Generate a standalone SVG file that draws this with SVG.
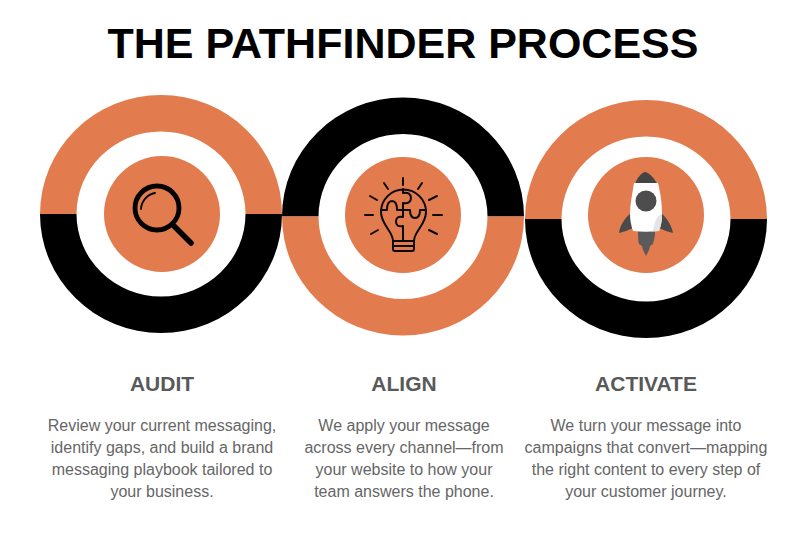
<svg xmlns="http://www.w3.org/2000/svg" width="812" height="536" viewBox="0 0 812 536">
<style>
.o{fill:#e27b4e}.k{fill:#000}
.t{font-family:"Liberation Sans",Arial,sans-serif;text-anchor:middle}
.h{font-size:21px;font-weight:700;fill:#595959}
.b{font-size:16px;fill:#666}
.l{fill:none;stroke:#0a0a0a;stroke-width:2;stroke-linecap:round;stroke-linejoin:round}
</style>
<defs><path id="half" d="M-121 0A121 119 0 0 1 121 0H84.500A84.500 82.500 0 0 0 -84.500 0Z"/></defs>
<rect width="812" height="536" fill="#fff"/>
<text class="t" x="403" y="58" font-size="43" font-weight="700" fill="#000">THE PATHFINDER PROCESS</text>
<g id="audit">
<use href="#half" class="o" x="161" y="214"/>
<use href="#half" class="k" transform="translate(161 214) rotate(180)"/>
<circle class="o" cx="162" cy="214" r="58"/>
<circle cx="157" cy="208" r="22" fill="none" stroke="#000" stroke-width="4.800"/>
<path d="M141 209A17 17 0 0 1 155 193" fill="none" stroke="#000" stroke-width="1.800" stroke-linecap="round"/>
<path d="M174 226L191 243" fill="none" stroke="#000" stroke-width="5.500" stroke-linecap="round"/>
<text class="t h" x="162" y="391">AUDIT</text>
<text class="t b"><tspan x="162" y="431">Review your current messaging,</tspan><tspan x="162" y="453">identify gaps, and build a brand</tspan><tspan x="162" y="475">messaging playbook tailored to</tspan><tspan x="162" y="497">your business.</tspan></text>
</g>
<g id="align">
<use href="#half" class="k" x="403" y="216.500"/>
<use href="#half" class="o" transform="translate(403 216.500) rotate(180)"/>
<circle class="o" cx="403" cy="215" r="58"/>
<path class="l" d="M403 178V185M384 183L388 189M422 183L418 189M370 196L377 200M437 196L429 200M365 215H373M433 215H442M371 234L378 230M437 234L429 230"/>
<path class="l" d="M393 241C393 231 381 225 381 212A22.500 22.500 0 0 1 426 212C426 225 414 231 414 241"/>
<path class="l" d="M393 241H414V249Q414 251 412 251H395Q393 251 393 249ZM393 246H414"/>
<path class="l" d="M403 189V193C408 192 411 194 411 198C411 202 408 204 403 203V217C398 216 396 218 396 221.500C396 225 398 227 403 226V241M381 210H387C387 204 389 201 392 201C395 201 397 204 397 210H410C410 216 412 218 415 218C418 218 420 216 420 210H426"/>
<text class="t h" x="404" y="391">ALIGN</text>
<text class="t b"><tspan x="404" y="431">We apply your message</tspan><tspan x="404" y="453">across every channel—from</tspan><tspan x="404" y="475">your website to how your</tspan><tspan x="404" y="497">team answers the phone.</tspan></text>
</g>
<g id="activate">
<use href="#half" class="o" x="646" y="219"/>
<use href="#half" class="k" transform="translate(646 219) rotate(180)"/>
<circle class="o" cx="646" cy="215" r="58"/>
<path fill="#4a4a4a" d="M631 213C625 218 620 225 619 233C624 232 628 230 633 228ZM661 213C667 218 672 226 673 233C668 232 664 230 659 228Z"/>
<path fill="#5a5a5a" d="M638 231H655C655 238 654 240 653 244L650 246L649 250L646 256L643 250L642 246L639 244C638 240 638 236 638 231Z"/>
<path fill="#444" d="M645 172C641 173 637 178 635 184H657C654 178 650 173 645 172Z"/>
<path fill="#fff" d="M634 183H658C661 195 662 205 662 214C662 220 661 226 659 231C650 232 641 232 633 231C631 225 630 220 630 214C630 205 632 195 634 183Z"/>
<path fill="#e4e4e4" d="M655 222C657 216 661 214 662 214C662 220 661 226 659 231L652 231.500C654 229 654 226 655 222Z"/>
<circle cx="646" cy="201" r="10.500" fill="#4d4d4d"/>
<text class="t h" x="646" y="391">ACTIVATE</text>
<text class="t b"><tspan x="646" y="431">We turn your message into</tspan><tspan x="646" y="453">campaigns that convert—mapping</tspan><tspan x="646" y="475">the right content to every step of</tspan><tspan x="646" y="497">your customer journey.</tspan></text>
</g>
<g id="connectors"/>
</svg>
